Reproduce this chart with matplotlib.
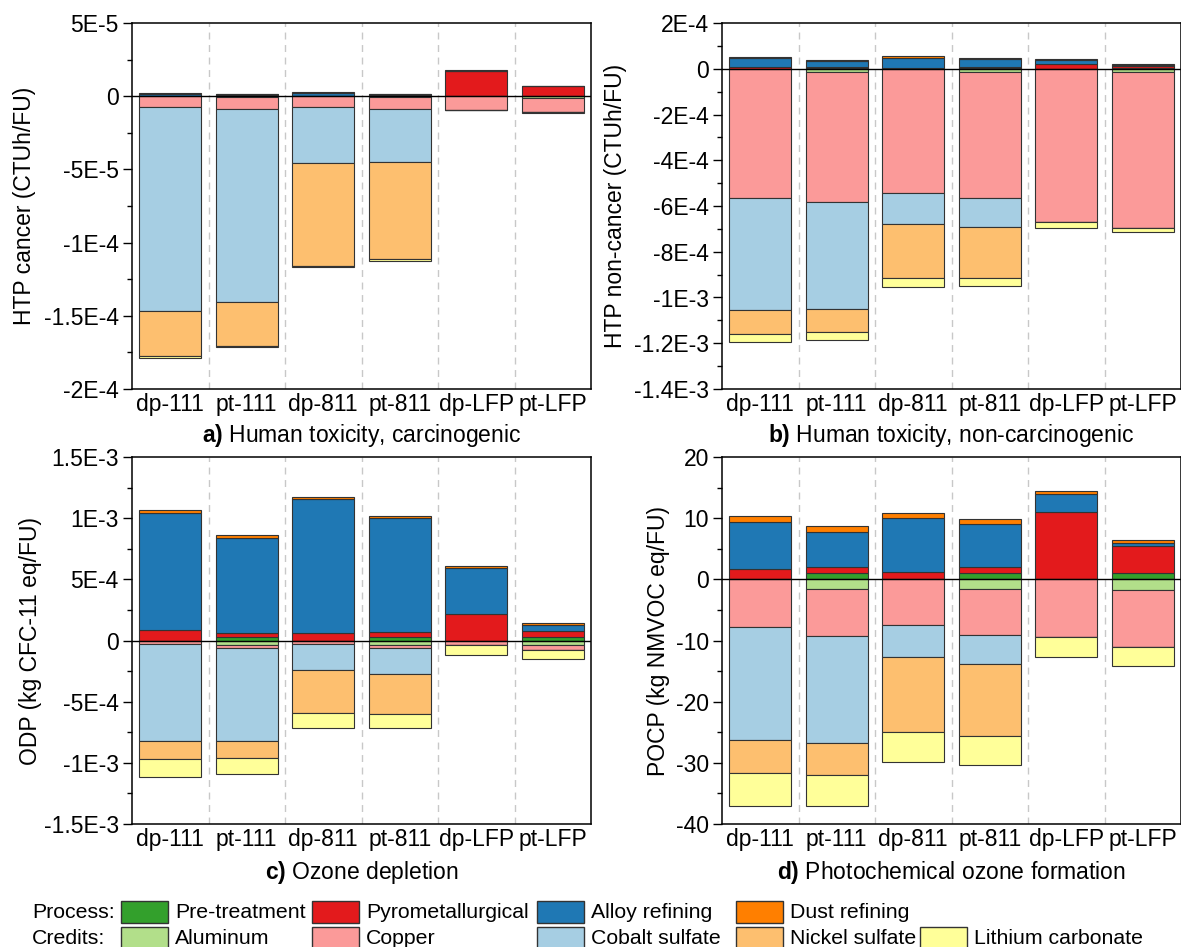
import numpy as np
import matplotlib
matplotlib.use('Agg')
from matplotlib import pyplot as plt
from matplotlib.ticker import MultipleLocator, FuncFormatter
from matplotlib.patches import Rectangle

plt.rcParams['font.family'] = ['Liberation Sans', 'DejaVu Sans']
plt.rcParams['mathtext.fontset'] = 'custom'
plt.rcParams['mathtext.rm'] = 'Liberation Sans'
plt.rcParams['mathtext.bf'] = 'Liberation Sans:bold'

cases = ['dp-111', 'pt-111', 'dp-811', 'pt-811', 'dp-LFP', 'pt-LFP']
process_names = ['Pre-treatment', 'Pyrometallurgical', 'Alloy refining', 'Dust refining']
credit_names = ['Aluminum', 'Copper', 'Cobalt sulfate', 'Nickel sulfate', 'Lithium carbonate']
process_colors = ['#33a02c', '#e31a1c', '#1f78b4', '#ff7f00']
credit_colors = ['#b2df8a', '#fb9a99', '#a6cee3', '#fdbf6f', '#ffff99']

# a) HTP cancer (CTUh/FU), rows = process / credit stages, cols = cases
htpc_process = np.array([[0.0, 0.3, 0.0, 0.3, 0.0, 0.4],
                         [0.3, 0.3, 0.3, 0.3, 17.0, 6.4],
                         [1.5, 0.8, 1.8, 0.9, 0.4, 0.2],
                         [0.3, 0.3, 0.5, 0.3, 0.3, 0.1]]) * 1e-6
htpc_credits = -np.array([[0.0, 0.3, 0.0, 0.3, 0.0, 1.0],
                          [7.7, 8.5, 7.3, 8.5, 9.1, 10.0],
                          [139.0, 132.0, 38.6, 36.1, 0.0, 0.0],
                          [30.9, 29.5, 69.8, 66.6, 0.0, 0.0],
                          [1.0, 1.0, 1.1, 0.9, 0.5, 0.3]]) * 1e-6

# b) HTP non-cancer (CTUh/FU)
htpn_process = np.array([[0.0, 0.02, 0.0, 0.02, 0.0, 0.02],
                         [0.08, 0.04, 0.05, 0.05, 0.21, 0.12],
                         [0.37, 0.26, 0.43, 0.35, 0.16, 0.03],
                         [0.08, 0.07, 0.07, 0.07, 0.06, 0.02]]) * 1e-4
htpn_credits = -np.array([[0.0, 0.15, 0.0, 0.15, 0.0, 0.16],
                          [5.63, 5.69, 5.44, 5.48, 6.71, 6.78],
                          [4.93, 4.65, 1.36, 1.30, 0.0, 0.0],
                          [1.02, 1.00, 2.36, 2.23, 0.0, 0.0],
                          [0.38, 0.35, 0.36, 0.34, 0.23, 0.20]]) * 1e-4

# c) ODP (kg CFC-11 eq/FU)
odp_process = np.array([[0.0, 0.27, 0.0, 0.27, 0.0, 0.27],
                        [0.82, 0.38, 0.63, 0.44, 2.13, 0.52],
                        [9.62, 7.74, 10.95, 9.32, 3.79, 0.44],
                        [0.25, 0.25, 0.19, 0.16, 0.16, 0.19]]) * 1e-4
odp_credits = -np.array([[0.03, 0.35, 0.0, 0.35, 0.0, 0.35],
                         [0.22, 0.30, 0.27, 0.30, 0.35, 0.41],
                         [7.95, 7.57, 2.18, 2.07, 0.0, 0.0],
                         [1.50, 1.39, 3.49, 3.27, 0.0, 0.0],
                         [1.42, 1.28, 1.23, 1.14, 0.84, 0.76]]) * 1e-4

# d) POCP (kg NMVOC eq/FU)
pocp_process = np.array([[0.0, 1.03, 0.0, 1.03, 0.0, 1.09],
                         [1.63, 0.93, 1.14, 1.03, 10.94, 4.41],
                         [7.68, 5.82, 8.82, 6.91, 2.99, 0.49],
                         [1.03, 0.93, 0.93, 0.82, 0.54, 0.44]])
pocp_credits = -np.array([[0.0, 1.52, 0.0, 1.52, 0.0, 1.69],
                          [7.84, 7.78, 7.46, 7.57, 9.36, 9.42],
                          [18.45, 17.47, 5.17, 4.68, 0.0, 0.0],
                          [5.39, 5.23, 12.41, 11.81, 0.0, 0.0],
                          [5.44, 5.12, 4.90, 4.74, 3.27, 2.99]])

W, H = 1181, 947
FS = 16.5
EDGE = '#333333'


def sciFmt(v, pos):
    if abs(v) < 1e-12:
        return '0'
    if abs(v) >= 1:
        return '{:g}'.format(v)
    mant, exp = '{:.1E}'.format(v).split('E')
    mant = mant.rstrip('0').rstrip('.')
    return '{}E{}'.format(mant, int(exp))


def stackBars(ax, process, credits):
    x = np.arange(len(cases))
    base = np.zeros(len(cases))
    for vals, col in zip(process, process_colors):
        ax.bar(x, vals, 0.81, bottom=base, color=col, edgecolor=EDGE, linewidth=0.8, zorder=2)
        base = base + vals
    base = np.zeros(len(cases))
    for vals, col in zip(credits, credit_colors):
        ax.bar(x, vals, 0.81, bottom=base, color=col, edgecolor=EDGE, linewidth=0.8, zorder=2)
        base = base + vals


fig = plt.figure(figsize=(W / 100, H / 100), dpi=100)

# pixel boxes: left, right, top, bottom
panels = [
    ((132, 591, 23, 389), htpc_process, htpc_credits, (-2e-4, 5e-5), 5e-5,
     'HTP cancer (CTUh/FU)', 36, r'$\mathbf{a)}$ Human toxicity, carcinogenic', 435),
    ((722, 1181, 23, 389), htpn_process, htpn_credits, (-1.4e-3, 2e-4), 2e-4,
     'HTP non-cancer (CTUh/FU)', 627, r'$\mathbf{b)}$ Human toxicity, non-carcinogenic', 435),
    ((132, 591, 457, 824), odp_process, odp_credits, (-1.5e-3, 1.5e-3), 5e-4,
     'ODP (kg CFC-11 eq/FU)', 42, r'$\mathbf{c)}$ Ozone depletion', 872),
    ((722, 1181, 457, 824), pocp_process, pocp_credits, (-40, 20), 10,
     'POCP (kg NMVOC eq/FU)', 670, r'$\mathbf{d)}$ Photochemical ozone formation', 872),
]

for box, proc, cred, ylim, major, ylabel, labx, title, ty in panels:
    l, r, t, b = box
    ax = fig.add_axes([l / W, 1 - b / H, (r - l) / W, (b - t) / H])
    stackBars(ax, proc, cred)
    ax.axhline(0, color='black', lw=1.0, zorder=4)
    for xd in np.arange(0.5, len(cases) - 1, 1.0):
        ax.axvline(xd, color='#c8c8c8', lw=1.0, ls=(0, (5, 4)), zorder=0)
    ax.set_xlim(-0.5, len(cases) - 0.5)
    ax.set_ylim(*ylim)
    ax.yaxis.set_major_locator(MultipleLocator(major))
    ax.yaxis.set_minor_locator(MultipleLocator(major / 2))
    ax.yaxis.set_major_formatter(FuncFormatter(sciFmt))
    ax.set_xticks(np.arange(len(cases)))
    ax.set_xticklabels(cases)
    ax.tick_params(axis='x', length=0, pad=3, labelsize=FS)
    ax.tick_params(axis='y', which='major', direction='out', length=6.5, width=1.0, pad=3, labelsize=FS)
    ax.tick_params(axis='y', which='minor', direction='out', length=3.5, width=1.0)
    for sp in ax.spines.values():
        sp.set_linewidth(1.1)
    ax.set_ylabel(ylabel, fontsize=FS)
    ax.yaxis.set_label_coords((labx - l) / (r - l), 0.5)
    fig.text((l + r) / 2 / W, 1 - ty / H, title, ha='center', va='center', fontsize=FS)

# legend rows, built by hand to keep the two-row "Process:/Credits:" layout
LFS = 15.3
sw_w, sw_h = 47, 22
rows = [('Process:', 912, process_names, process_colors, [121, 312, 537, 736]),
        ('Credits:', 938, credit_names, credit_colors, [121, 312, 537, 736, 920])]
for head, yc, names, cols, xs in rows:
    fig.text(32 / W, 1 - yc / H, head, ha='left', va='center', fontsize=LFS)
    for name, col, x0 in zip(names, cols, xs):
        fig.add_artist(Rectangle((x0 / W, 1 - (yc + sw_h / 2) / H), sw_w / W, sw_h / H,
                                 transform=fig.transFigure, facecolor=col, edgecolor=EDGE, lw=1.0))
        fig.text((x0 + sw_w + 7) / W, 1 - yc / H, name, ha='left', va='center', fontsize=LFS)

fig.savefig('out.png', dpi=100)
